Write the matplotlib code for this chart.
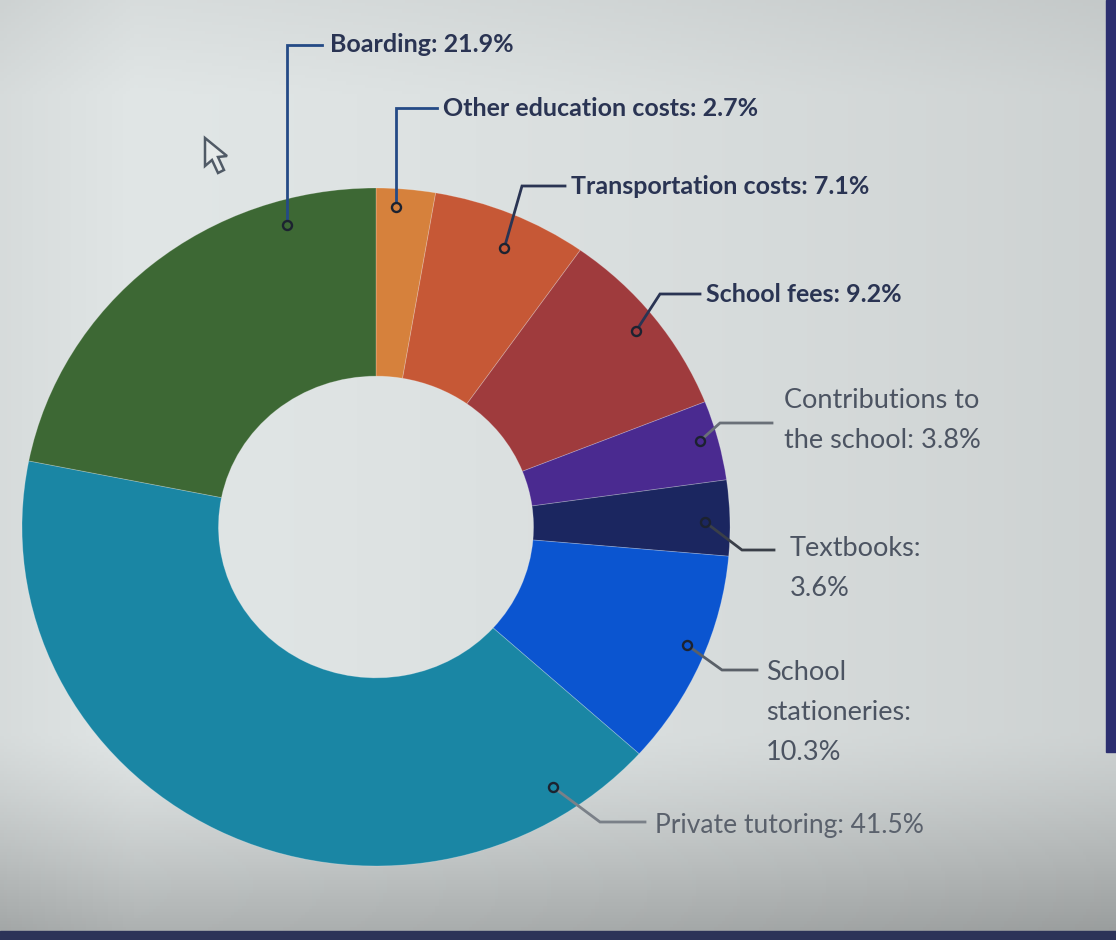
import numpy as np
import matplotlib.pyplot as plt
from matplotlib.patches import Rectangle, Polygon

# donut slices, clockwise from the top
labels = ['Other education costs: 2.7%', 'Transportation costs: 7.1%', 'School fees: 9.2%',
          'Contributions to\nthe school: 3.8%', 'Textbooks:\n3.6%',
          'School\nstationeries:\n10.3%', 'Private tutoring: 41.5%', 'Boarding: 21.9%']
shares = [2.7, 7.1, 9.2, 3.8, 3.6, 10.3, 41.5, 21.9]
colors = ['#d6813c', '#c65836', '#9f3b3d', '#4a2a90', '#1b2660', '#0b55d0', '#1a86a4', '#3d6834']

W, H = 1116, 940
cx, cy = 376, 527          # donut centre (pixels, y down)
Rx, Ry = 354, 339          # photo makes the ring slightly oval
hole = 0.445

# where the connector dot sits inside each wedge (fraction of the wedge, radius fraction)
dot_frac = [0.36, 0.55, 0.5, 0.45, 0.55, 0.45, 0.1, 0.8]
dot_rad = [0.945, 0.9, 0.935, 0.95, 0.93, 0.945, 0.915, 0.925]
# leader elbow / end and text anchor, pixels
elbow = [('v', 108), (522, 186), (660, 294), (720, 423), (742, 550), (722, 670), (600, 822), ('v', 45)]
line_end = [437, 565, 700, 772, 774, 757, 645, 322]
text_xy = [(443, 108), (571, 186), (706, 294), (784, 400), (790, 548), (766, 672), (655, 826), (330, 45)]
text_col = ['#2a3453', '#2a3453', '#2a3453', '#4c5462', '#4c5462', '#4c5462', '#5a616c', '#2a3453']
text_wt = ['bold', 'bold', 'bold', 'normal', 'normal', 'normal', 'normal', 'bold']
text_sz = [18, 18, 18, 19.5, 19.5, 19.5, 19, 18]
line_col = ['#244a86', '#2a3453', '#2a3453', '#6a7078', '#3a3f48', '#5a6068', '#7a8088', '#244a86']

plt.rcParams['font.family'] = ['Lato', 'DejaVu Sans']

fig = plt.figure(figsize=(W / 100, H / 100), dpi=100)
ax = fig.add_axes([0, 0, 1, 1])

# photographed-screen background: light in the middle, darker edges and bottom
xn = np.linspace(0, 1, 300)
yn = np.linspace(0, 1, 300)
XN, YN = np.meshgrid(xn, yn)
b = (1 - 0.09 * XN ** 1.5
     - 0.05 * np.clip((0.12 - XN) / 0.12, 0, 1)
     - 0.04 * np.clip((0.10 - YN) / 0.10, 0, 1)
     - 0.24 * np.clip((YN - 0.78) / 0.22, 0, 1) ** 1.3)
base = np.array([0.885, 0.905, 0.905])
bg = base[None, None, :] * b[..., None]
ax.imshow(bg, extent=(0, W, 0, H), origin='upper', zorder=0)
ax.add_patch(Rectangle((0, 0), W, 9, color='#2c3358', zorder=1))
ax.add_patch(Rectangle((W - 10, H - 752), 10, 752, color='#2c2f70', zorder=1))
ax.set_xlim(0, W)
ax.set_ylim(0, H)
ax.set_aspect('auto')
ax.axis('off')

# ring in its own axes so it can be stretched a little
pax = fig.add_axes([(cx - Rx) / W, (H - cy - Ry) / H, 2 * Rx / W, 2 * Ry / H])
pax.pie(shares, colors=colors, startangle=90, counterclock=False, radius=1,
        wedgeprops=dict(width=1 - hole, linewidth=0.6, edgecolor=(1, 1, 1, 0.25)))
pax.set_aspect('auto')
pax.set_xlim(-1, 1)
pax.set_ylim(-1, 1)
pax.axis('off')

# labels and connectors on a transparent overlay above the ring
lax = fig.add_axes([0, 0, 1, 1])
lax.set_xlim(0, W)
lax.set_ylim(0, H)
lax.axis('off')

# mouse pointer visible in the photo
cursor = [(205, 138), (205, 166), (212, 160), (218, 173), (224, 170), (218, 157), (227, 156)]
lax.add_patch(Polygon([(x, H - y) for x, y in cursor], closed=True, fc='#e6eaea',
                      ec='#505a66', lw=1.8, zorder=6))

cum = np.concatenate([[0], np.cumsum(shares)]) / sum(shares)
for i, lab in enumerate(labels):
    frac = cum[i] + dot_frac[i] * (cum[i + 1] - cum[i])
    ang = np.deg2rad(90 - 360 * frac)
    dx = cx + dot_rad[i] * Rx * np.cos(ang)
    dy = cy - dot_rad[i] * Ry * np.sin(ang)
    e = elbow[i]
    if e[0] == 'v':
        ex, ey = dx, e[1]
    else:
        ex, ey = e
    xs = [dx, ex, line_end[i]]
    ys = [dy, ey, ey]
    lax.plot(xs, [H - v for v in ys], color=line_col[i], lw=2, zorder=3,
             solid_joinstyle='miter')
    lax.plot(dx, H - dy, 'o', ms=6.5, mfc=colors[i], mec='#1c2230', mew=1.7, zorder=4)
    tx, ty = text_xy[i]
    for k, part in enumerate(lab.split('\n')):
        lax.text(tx, H - (ty + k * 40), part, fontsize=text_sz[i], color=text_col[i],
                 fontweight=text_wt[i], ha='left', va='center', zorder=5)

fig.savefig('out.png', dpi=100)
